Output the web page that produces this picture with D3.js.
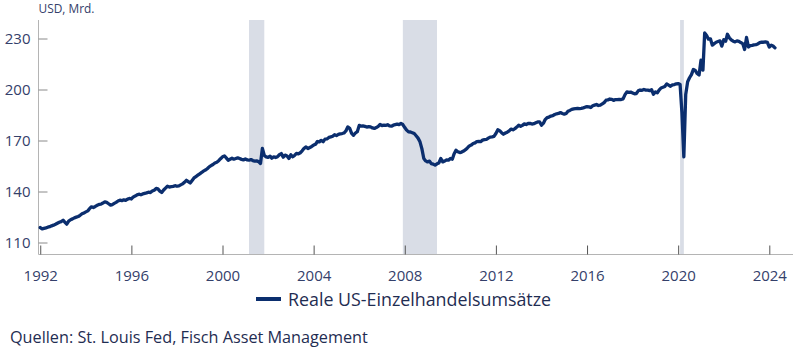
<!DOCTYPE html>
<html>
<head>
<meta charset="utf-8">
<script src="https://cdn.jsdelivr.net/npm/d3@7"></script>
<style>
  html, body { margin: 0; padding: 0; background: #fff; }
  svg { display: block; font-family: "Open Sans", sans-serif; }
</style>
</head>
<body>
<svg id="chart" width="802" height="356"></svg>
<script>
// ---- Data (billions USD, monthly, starting Jan 1992) ----
const startYear = 1992;
const v1992 = [118.8, 118.0, 118.3, 118.6, 119.0, 119.3, 119.8, 120.2, 120.7, 121.3, 121.9, 122.3];
const v1993 = [123.1, 121.9, 120.8, 122.6, 123.4, 123.9, 124.5, 124.9, 125.3, 126.0, 126.9, 127.4];
const v1994 = [128.0, 128.6, 129.9, 131.0, 130.6, 131.2, 131.9, 132.4, 132.6, 133.2, 133.9, 133.6];
const v1995 = [132.8, 132.0, 132.3, 133.0, 133.6, 134.4, 134.9, 134.6, 135.1, 134.8, 135.5, 135.9];
const v1996 = [135.6, 136.8, 137.3, 138.0, 138.4, 138.1, 138.6, 138.9, 139.2, 139.6, 139.4, 140.3];
const v1997 = [140.8, 141.8, 141.5, 140.2, 139.4, 140.9, 142.0, 143.1, 142.6, 142.8, 143.0, 143.4];
const v1998 = [143.1, 143.3, 143.9, 144.5, 145.4, 146.6, 145.8, 145.0, 146.5, 148.0, 148.8, 149.6];
const v1999 = [150.4, 151.2, 152.0, 152.6, 153.4, 154.5, 155.2, 155.9, 156.8, 157.2, 158.1, 159.3];
const v2000 = [160.4, 160.9, 159.8, 158.4, 159.0, 159.6, 159.0, 159.4, 159.8, 159.4, 158.9, 158.6];
const v2001 = [159.1, 158.6, 158.4, 158.8, 158.2, 157.9, 158.0, 157.6, 156.5, 165.3, 161.2, 160.4];
const v2002 = [160.1, 160.8, 159.6, 160.4, 160.0, 160.5, 161.6, 162.3, 160.2, 161.4, 160.9, 159.4];
const v2003 = [161.6, 160.4, 161.2, 162.4, 162.1, 162.8, 163.9, 165.4, 166.2, 165.3, 165.9, 166.5];
const v2004 = [167.3, 167.8, 169.4, 169.2, 170.1, 169.3, 170.8, 170.9, 171.8, 172.1, 172.5, 173.4];
const v2005 = [172.9, 173.6, 173.9, 174.1, 174.4, 175.6, 178.0, 177.2, 174.2, 173.1, 174.4, 175.2];
const v2006 = [178.9, 178.4, 178.6, 178.3, 177.9, 178.2, 178.0, 177.4, 177.1, 177.6, 178.3, 179.4];
const v2007 = [178.8, 179.0, 178.9, 179.3, 178.6, 178.4, 179.0, 179.3, 179.6, 179.3, 180.0, 179.4];
const v2008 = [177.6, 176.1, 175.1, 175.0, 174.6, 174.1, 172.8, 171.4, 169.2, 165.2, 159.4, 158.0];
const v2009 = [157.4, 157.9, 156.4, 156.1, 155.5, 156.3, 156.8, 159.4, 157.4, 157.9, 158.6, 158.4];
const v2010 = [159.4, 159.0, 162.1, 164.3, 163.4, 162.9, 163.2, 163.8, 164.6, 165.6, 166.8, 167.3];
const v2011 = [168.2, 168.6, 169.4, 169.5, 169.3, 170.2, 170.5, 170.6, 171.4, 172.0, 172.1, 172.4];
const v2012 = [174.1, 176.3, 175.8, 174.6, 173.7, 174.4, 174.9, 175.7, 176.7, 176.3, 177.0, 177.9];
const v2013 = [179.0, 178.4, 178.9, 179.8, 179.4, 180.0, 180.1, 179.7, 179.9, 180.4, 180.9, 181.0];
const v2014 = [179.0, 180.2, 182.3, 183.5, 183.8, 184.4, 184.6, 185.3, 185.7, 185.9, 186.4, 185.9];
const v2015 = [185.5, 185.9, 187.2, 187.7, 188.3, 188.6, 188.8, 188.9, 188.7, 188.9, 189.2, 189.6];
const v2016 = [189.9, 189.8, 189.4, 190.4, 190.8, 191.2, 190.6, 190.8, 191.5, 192.3, 193.7, 193.9];
const v2017 = [194.4, 194.2, 193.6, 194.1, 194.0, 194.2, 194.1, 194.5, 197.0, 198.6, 198.3, 198.5];
const v2018 = [198.0, 197.5, 197.6, 199.2, 199.7, 199.5, 200.0, 199.6, 199.6, 199.3, 199.9, 197.2];
const v2019 = [198.6, 198.0, 199.6, 200.9, 201.3, 201.8, 203.3, 202.6, 201.9, 202.7, 202.9, 203.3];
const v2020 = [203.5, 202.9, 186.5, 160.4, 197.0, 204.6, 206.9, 208.8, 211.8, 211.2, 209.4, 208.5];
const v2021 = [217.2, 211.4, 233.3, 231.8, 229.6, 229.8, 226.1, 227.0, 227.8, 228.2, 228.6, 225.5];
const v2022 = [229.3, 228.4, 232.5, 230.4, 229.2, 228.4, 228.0, 228.6, 228.3, 227.6, 227.0, 223.5];
const v2023 = [230.6, 225.0, 225.8, 226.0, 226.3, 226.4, 226.8, 227.6, 227.9, 227.8, 228.0, 227.7];
const v2024 = [225.0, 226.1, 225.6, 224.5];

const yearly = [v1992, v1993, v1994, v1995, v1996, v1997, v1998, v1999, v2000, v2001, v2002,
  v2003, v2004, v2005, v2006, v2007, v2008, v2009, v2010, v2011, v2012, v2013, v2014,
  v2015, v2016, v2017, v2018, v2019, v2020, v2021, v2022, v2023, v2024];

// Recessions (start month, end month)
const recessions = [["2001-03", "2001-11"], ["2007-12", "2009-06"], ["2020-02", "2020-04"]];

const yTicks = [110, 140, 170, 200, 230];
const xTickYears = [1992, 1996, 2000, 2004, 2008, 2012, 2016, 2020, 2024];
const yUnit = "USD, Mrd.";
const seriesName = "Reale US-Einzelhandelsumsätze";
const sourceText = "Quellen: St. Louis Fed, Fisch Asset Management";

// ---- Build table ----
const data = [];
yearly.forEach((arr, i) => arr.forEach((v, m) => data.push({ date: new Date(startYear + i, m, 1), value: v })));

const svg = d3.select("#chart");
const navy = "#0b2e6e";
const textCol = "#34406a";

const x = d3.scaleTime()
  .domain([new Date(1991, 11, 4), new Date(2025, 0, 15)])
  .range([38.5, 793]);
const y = d3.scaleLinear().domain([110, 230]).range([242.5, 38.5]);

const plotTop = 20, plotBottom = 254.5;

// Recession bands
const parseYM = d3.timeParse("%Y-%m");
svg.append("g").selectAll("rect").data(recessions).join("rect")
  .attr("x", d => x(parseYM(d[0])))
  .attr("width", d => Math.max(3.5, x(parseYM(d[1])) - x(parseYM(d[0]))))
  .attr("y", plotTop)
  .attr("height", plotBottom - plotTop)
  .attr("fill", "#d9dde6");

// Y axis
const yAxis = svg.append("g").attr("transform", "translate(38.5,0)")
  .call(d3.axisRight(y).tickValues(yTicks).tickSize(9).tickFormat(d3.format("d")));
yAxis.select(".domain").attr("d", `M0,${plotTop}V${plotBottom}`).attr("stroke", "#b4b4b4");
yAxis.selectAll(".tick line").attr("stroke", "#8a8a8a");
yAxis.selectAll(".tick text")
  .attr("x", -8).attr("text-anchor", "end")
  .attr("fill", textCol).style("font-size", "15px").style("font-family", "Open Sans, sans-serif");

// X axis
const xAxis = svg.append("g").attr("transform", `translate(0,${plotBottom})`)
  .call(d3.axisTop(x).tickValues(xTickYears.map(yr => new Date(yr, 0, 1))).tickSize(9).tickFormat(d3.timeFormat("%Y")));
xAxis.select(".domain").attr("d", `M38.5,0H793`).attr("stroke", "#b4b4b4");
xAxis.selectAll(".tick line").attr("stroke", "#555");
xAxis.selectAll(".tick text")
  .attr("y", 16).attr("dy", "0.71em")
  .attr("fill", textCol).style("font-size", "15px").style("font-family", "Open Sans, sans-serif");

// Line
const line = d3.line().x(d => x(d.date)).y(d => y(d.value));
svg.append("path").datum(data)
  .attr("d", line)
  .attr("fill", "none")
  .attr("stroke", navy)
  .attr("stroke-width", 3.3)
  .attr("stroke-linejoin", "round")
  .attr("stroke-linecap", "round");

// Fit text to target width helper
function fitText(sel, targetW, base) {
  sel.style("font-size", base + "px");
  const w = sel.node().getComputedTextLength();
  sel.style("font-size", (base * targetW / w).toFixed(2) + "px");
}

// Unit label
const unit = svg.append("text").attr("x", 38.5).attr("y", 12.7).attr("fill", textCol)
  .text(yUnit);
fitText(unit, 56, 12);

// Legend
svg.append("line").attr("x1", 256).attr("x2", 281).attr("y1", 299).attr("y2", 299)
  .attr("stroke", navy).attr("stroke-width", 4);
const leg = svg.append("text").attr("x", 288).attr("y", 305.5).attr("fill", "#1f2d52")
  .text(seriesName);
fitText(leg, 263, 18);

// Source
const src = svg.append("text").attr("x", 10).attr("y", 343).attr("fill", "#1f2d52")
  .text(sourceText);
fitText(src, 358, 16);
</script>
</body>
</html>
